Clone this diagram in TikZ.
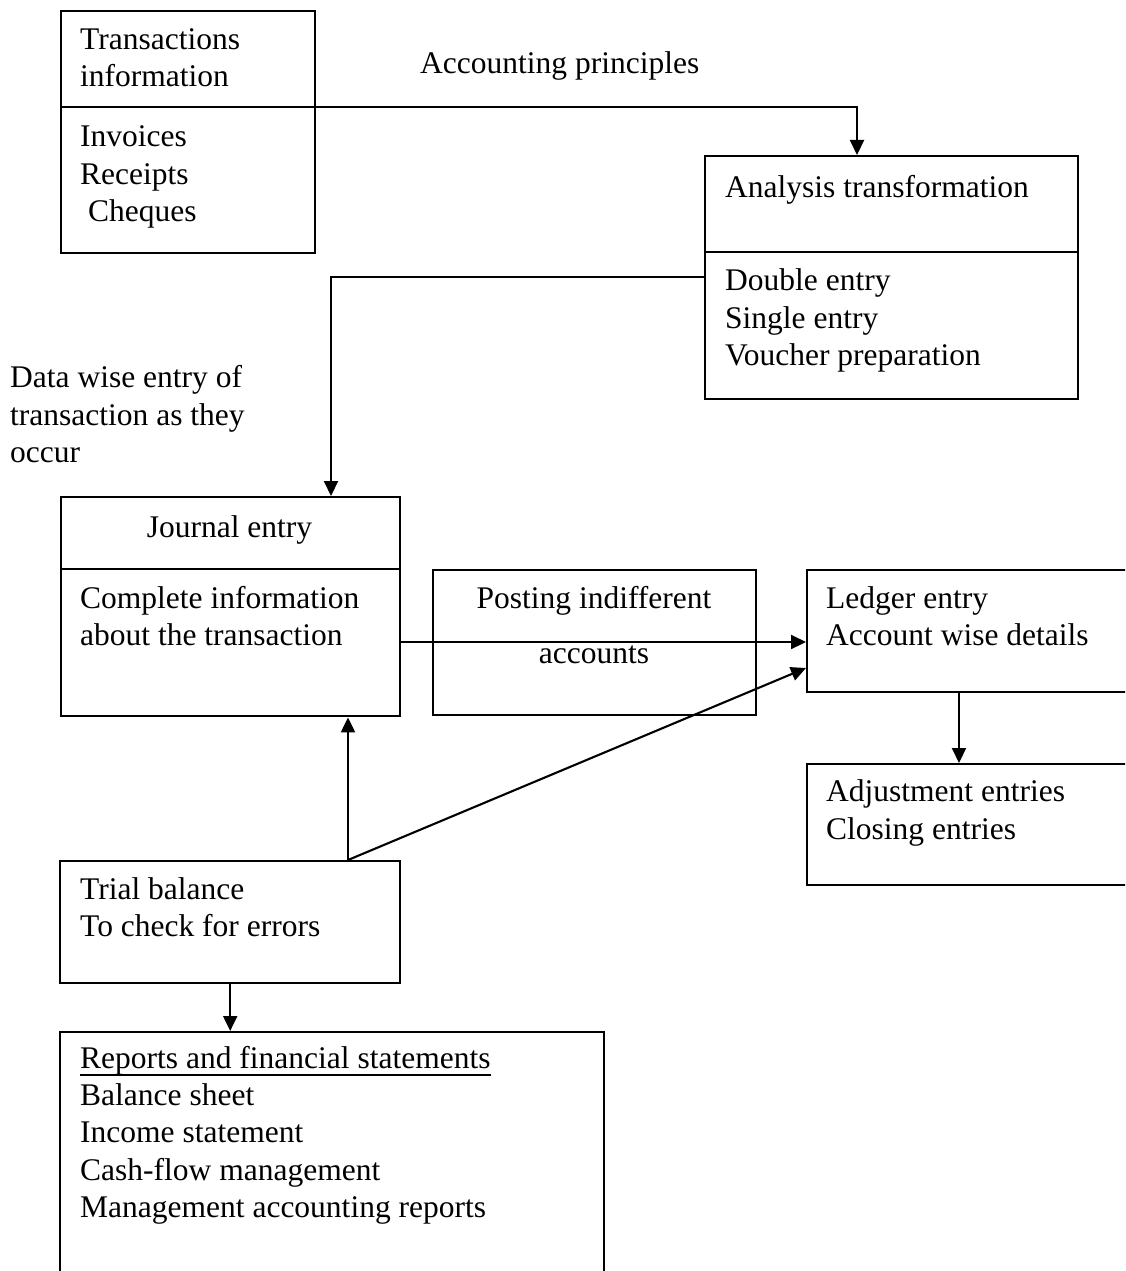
\documentclass[tikz,border=0pt]{standalone}
\usepackage{fontspec}
\setmainfont{Liberation Serif}
\usetikzlibrary{arrows.meta}
\begin{document}
\begin{tikzpicture}[x=1pt,y=-1pt,
  box/.style={draw, line width=2.4pt, rectangle, anchor=north west, inner sep=0pt},
  % multi-line texts are placed by the baseline of their last line
  txt/.style={anchor=base west, inner sep=0pt, align=left,
    font=\fontsize{31.5}{37.3}\selectfont},
  ctxt/.style={txt, anchor=base, align=center},
  link/.style={line width=2.1pt},
  conn/.style={link, -{Triangle[length=15pt,width=14pt]}}]
\useasboundingbox (0,0) rectangle (1125,1271);
\clip (0,0) rectangle (1125,1271);

% boxes
\node[box, minimum width=254pt, minimum height=242pt] (trans) at (60,10) {};
\node[box, minimum width=373pt, minimum height=243pt] (anal) at (704,155) {};
\node[box, minimum width=339pt, minimum height=219pt] (jour) at (60,496) {};
\node[box, minimum width=323pt, minimum height=145pt] (post) at (432,569) {};
\node[box, minimum width=340pt, minimum height=122pt] (ledg) at (806,569) {};
\node[box, minimum width=340pt, minimum height=121pt] (adj) at (806,763) {};
\node[box, minimum width=340pt, minimum height=122pt] (trial) at (59,860) {};
\node[box, minimum width=544pt, minimum height=270pt] (rep) at (59,1031) {};

% dividers inside the two-part boxes
\coordinate (d1) at (0,107);
\coordinate (d2) at (0,252);
\coordinate (d3) at (0,569);
\draw[line width=2.4pt] (trans.west |- d1) -- (trans.east |- d1);
\draw[line width=2.4pt] (anal.west |- d2) -- (anal.east |- d2);
\draw[line width=2.4pt] (jour.west |- d3) -- (jour.east |- d3);

% texts
\node[txt] (t1) at (80,86.5) {Transactions\\information};
\node[txt] (t2) at (80,221.5) {Invoices\\Receipts\\\hspace*{0.25em}Cheques};
\node[txt] (acc) at (420,74) {Accounting principles};
\node[txt] (t3) at (725,197) {Analysis transformation};
\node[txt] (t4) at (725,365.5) {Double entry\\Single entry\\Voucher preparation};
\node[txt] (dw) at (10,462.5) {Data wise entry of\\transaction as they\\occur};
\node[ctxt] (t5) at (229.5,537) {Journal entry};
\node[txt] (t6) at (80,645.5) {Complete information\\about the transaction};
\node[ctxt] (t7) at (594,608) {Posting indifferent};
\node[ctxt] (t8) at (594,663) {accounts};
\node[txt] (t9) at (826,645.5) {Ledger entry\\Account wise details};
\node[txt] (t10) at (826,839) {Adjustment entries\\Closing entries};
\node[txt] (t11) at (80,936.5) {Trial balance\\To check for errors};
\node[txt] (rh) at (80,1068) {Reports and financial statements};
\draw[line width=2pt] ([yshift=-7pt]rh.base west) -- ([yshift=-7pt]rh.base east);
\node[txt] (t12) at (80,1217.5) {Balance sheet\\Income statement\\Cash-flow management\\Management accounting reports};

% connector end points on the box edges
\coordinate (p1) at (857,0);
\coordinate (p2) at (0,277);
\coordinate (p3) at (331,0);
\coordinate (p4) at (0,642);
\coordinate (p5) at (348,0);
\coordinate (p6) at (0,668);
\coordinate (p7) at (959,0);

% connectors
\draw[conn] (trans.east |- d1) -| (anal.north -| p1);
\draw[conn] (anal.west |- p2) -| (jour.north -| p3);
\draw[conn] (jour.east |- p4) -- (ledg.west |- p4);
\draw[conn] (trial.north -| p5) -- (jour.south -| p5);
\draw[conn] (trial.north -| p5) -- (ledg.west |- p6);
\draw[conn] (ledg.south -| p7) -- (adj.north -| p7);
\draw[conn] (trial.south) -- (rep.north -| trial.south);
\end{tikzpicture}
\end{document}
